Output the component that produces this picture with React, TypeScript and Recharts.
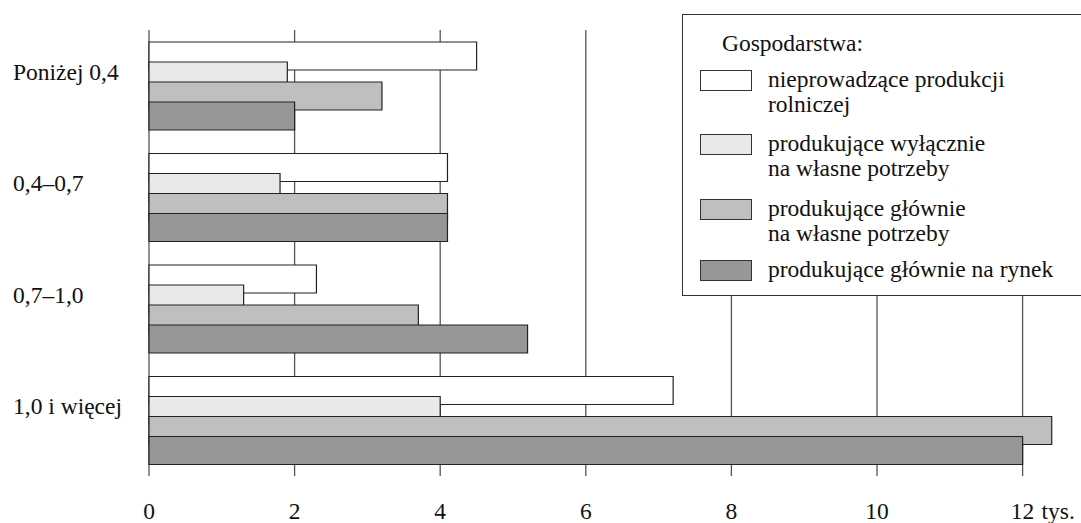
import { BarChart, Bar, XAxis, YAxis, CartesianGrid } from "recharts";

const CATEGORIES = ["Poniżej 0,4", "0,4–0,7", "0,7–1,0", "1,0 i więcej"];
const NIEPROWADZACE = [4.5, 4.1, 2.3, 7.2];
const WYLACZNIE_WLASNE = [1.9, 1.8, 1.3, 4.0];
const GLOWNIE_WLASNE = [3.2, 4.1, 3.7, 12.4];
const GLOWNIE_RYNEK = [2.0, 4.1, 5.2, 12.0];
const X_TICKS = [0, 2, 4, 6, 8, 10, 12];
const X_MAX = 12.5;

const SERIES = [
  { key: "a", label: ["nieprowadzące produkcji", "rolniczej"], color: "#ffffff", values: NIEPROWADZACE },
  { key: "b", label: ["produkujące wyłącznie", "na własne potrzeby"], color: "#e9e9e9", values: WYLACZNIE_WLASNE },
  { key: "c", label: ["produkujące głównie", "na własne potrzeby"], color: "#bfbfbf", values: GLOWNIE_WLASNE },
  { key: "d", label: ["produkujące głównie na rynek"], color: "#979797", values: GLOWNIE_RYNEK },
];

const FONT = "Liberation Serif, Times New Roman, serif";
const FS = 23.5;

const data = CATEGORIES.map((name, i) => {
  const row: Record<string, string | number> = { name };
  SERIES.forEach((s) => {
    row[s.key] = s.values[i];
  });
  return row;
});

// grid lines only at the ticks, not at the right edge of the plot
const gridX = ({ offset }: any) =>
  X_TICKS.map((t) => offset.left + (t / X_MAX) * offset.width);

function XTick({ x, y, payload }: any) {
  const last = payload.value === X_TICKS[X_TICKS.length - 1];
  return (
    <g>
      <text x={x} y={y} dy={43} textAnchor="middle" fontSize={FS} fontFamily={FONT} fill="#111">
        {payload.value}
      </text>
      {last && (
        <text x={x + 19} y={y} dy={43} textAnchor="start" fontSize={FS} fontFamily={FONT} fill="#111">
          tys.
        </text>
      )}
    </g>
  );
}

function YTick({ y, payload }: any) {
  return (
    <text x={13} y={y} dy={-6} textAnchor="start" fontSize={FS} fontFamily={FONT} fill="#111">
      {payload.value}
    </text>
  );
}

function LegendBox() {
  const tops = [52, 116, 181, 242];
  return (
    <div
      style={{
        position: "absolute",
        left: 682,
        top: 14,
        width: 400,
        height: 282,
        boxSizing: "border-box",
        border: "1px solid #333",
        borderRight: "none",
        background: "#fff",
        fontFamily: FONT,
        fontSize: FS,
        lineHeight: "25px",
        color: "#111",
      }}
    >
      <div style={{ position: "absolute", left: 39, top: 16 }}>Gospodarstwa:</div>
      {SERIES.map((s, i) => (
        <div key={s.key} style={{ position: "absolute", left: 17, top: tops[i], display: "flex" }}>
          <div
            style={{
              width: 52,
              height: 21,
              flex: "none",
              boxSizing: "border-box",
              border: "1px solid #333",
              background: s.color,
              marginTop: 3,
            }}
          />
          <div style={{ marginLeft: 16, whiteSpace: "nowrap" }}>
            {s.label.map((l) => (
              <div key={l}>{l}</div>
            ))}
          </div>
        </div>
      ))}
    </div>
  );
}

export default function App() {
  return (
    <div style={{ position: "fixed", left: 0, top: 0, width: 1081, height: 523, background: "#fff", overflow: "hidden" }}>
      <BarChart
        width={1081}
        height={523}
        data={data}
        layout="vertical"
        margin={{ top: 30, right: 22, bottom: 0, left: 0 }}
        barSize={28}
        barGap={-8}
      >
        <CartesianGrid
          horizontal={false}
          stroke="#555"
          strokeWidth={1.3}
          verticalCoordinatesGenerator={gridX}
        />
        <XAxis
          type="number"
          domain={[0, X_MAX]}
          ticks={X_TICKS}
          axisLine={false}
          tickLine={false}
          tickSize={0}
          tickMargin={0}
          height={47}
          tick={<XTick />}
          interval={0}
        />
        <YAxis
          type="category"
          dataKey="name"
          width={149}
          axisLine={false}
          tickLine={false}
          tick={<YTick />}
          interval={0}
        />
        {SERIES.map((s) => (
          <Bar
            key={s.key}
            dataKey={s.key}
            fill={s.color}
            stroke="#222"
            strokeWidth={1.2}
            isAnimationActive={false}
          />
        ))}
      </BarChart>
      <LegendBox />
    </div>
  );
}
